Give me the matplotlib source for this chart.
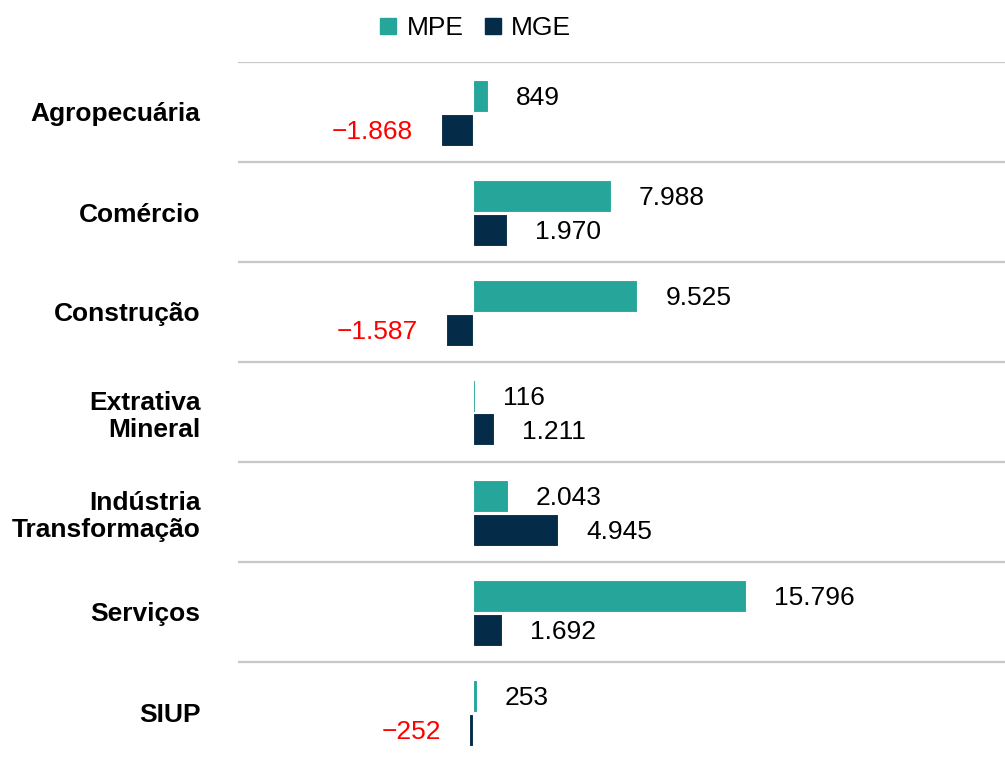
import numpy as np
import matplotlib.pyplot as plt
from matplotlib.lines import Line2D

plt.rcParams['font.family'] = ['Liberation Sans', 'DejaVu Sans']

# ---- Data ----
categories = ["Agropecuária", "Comércio", "Construção", "Extrativa\nMineral",
              "Indústria\nTransformação", "Serviços", "SIUP"]
mpe = [849, 7988, 9525, 116, 2043, 15796, 253]
mge = [-1868, 1970, -1587, 1211, 4945, 1692, -252]
series_names = ["MPE", "MGE"]

teal = "#26A69A"
navy = "#042C49"


def fmt(v):
    s = f"{abs(v):,}".replace(",", ".")
    return ("\u2212" + s) if v < 0 else s


def main():
    fig = plt.figure(figsize=(10.05, 7.57), dpi=100)
    ax = fig.add_axes([238 / 1005, -5 / 757, 767 / 1005, 700 / 757])

    y = np.arange(len(categories))
    h = 0.32
    ax.barh(y - 0.165, mpe, height=h, color=teal, edgecolor="white", linewidth=0.8)
    ax.barh(y + 0.175, mge, height=h, color=navy, edgecolor="white", linewidth=0.8)

    # value labels
    for vals, off in [(mpe, -0.165), (mge, 0.175)]:
        for yi, v in zip(y, vals):
            if v >= 0:
                ax.annotate(fmt(v), (v, yi + off), xytext=(20, -2), textcoords="offset points",
                            ha="left", va="center", fontsize=19, color="black")
            else:
                ax.annotate(fmt(v), (v, yi + off), xytext=(-20, -2), textcoords="offset points",
                            ha="right", va="center", fontsize=19, color="red")

    # separators
    for i in range(len(categories)):
        ax.axhline(i - 0.5, color="#C8C8C8", linewidth=1.6, zorder=0)

    ax.set_xlim(-13600, 30800)
    ax.set_ylim(len(categories) - 0.5, -0.5)
    ax.set_xticks([])
    ax.set_yticks(y)
    ax.set_yticklabels(categories, fontsize=19, fontweight="bold", ha="right",
                       multialignment="right")
    ax.tick_params(axis="y", length=0, pad=27)
    for s in ax.spines.values():
        s.set_visible(False)

    handles = [Line2D([], [], marker="s", linestyle="", markersize=11, color=c)
               for c in (teal, navy)]
    fig.legend(handles, series_names, loc="center", bbox_to_anchor=(473 / 1005, 1 - 28 / 757),
               ncol=2, frameon=False, fontsize=19, handletextpad=0.2, columnspacing=0.6,
               handlelength=1.0)

    fig.savefig("out.png", dpi=100)


if __name__ == "__main__":
    main()
